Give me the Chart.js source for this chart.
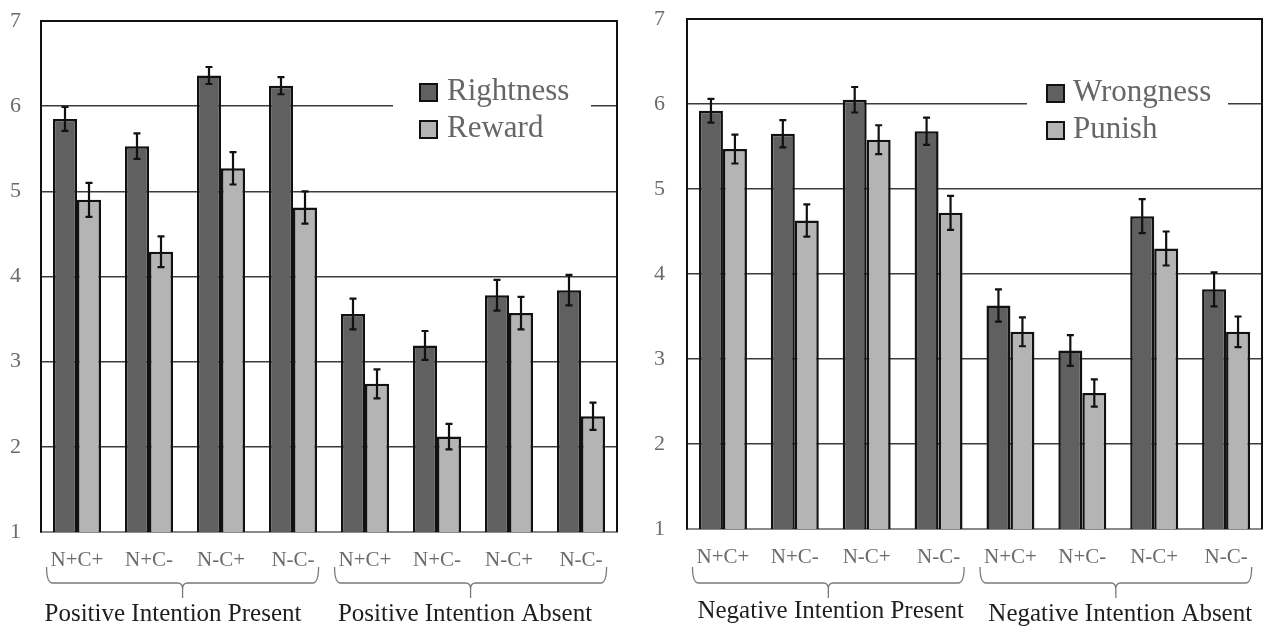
<!DOCTYPE html>
<html>
<head>
<meta charset="utf-8">
<script src="https://cdn.jsdelivr.net/npm/chart.js@4/dist/chart.umd.min.js"></script>
<style>
  html, body { margin: 0; padding: 0; background: #fff; }
  #wrap { position: relative; width: 1269px; height: 627px; overflow: hidden; }
  canvas { position: absolute; top: 0; }
  #leftChart { left: 0; }
  #rightChart { left: 630px; }
</style>
</head>
<body>
<div id="wrap">
  <canvas id="leftChart" width="630" height="627"></canvas>
  <canvas id="rightChart" width="639" height="627"></canvas>
</div>
<script>
// Conditions on the x axis (same for both panels)
const categories = ['N+C+', 'N+C-', 'N-C+', 'N-C-', 'N+C+', 'N+C-', 'N-C+', 'N-C-'];
const yTicks = [1, 2, 3, 4, 5, 6, 7];

// Group captions under the braces
const positiveGroups = ['Positive Intention Present', 'Positive Intention Absent'];
const negativeGroups = ['Negative Intention Present', 'Negative Intention Absent'];

// Positive panel: means and standard errors
const rightness    = [5.85, 5.53, 6.36, 6.24, 3.56, 3.19, 3.78, 3.84];
const rightnessErr = [0.14, 0.15, 0.10, 0.10, 0.18, 0.17, 0.18, 0.18];
const reward       = [4.90, 4.29, 5.27, 4.81, 2.74, 2.12, 3.57, 2.36];
const rewardErr    = [0.20, 0.18, 0.19, 0.19, 0.17, 0.15, 0.19, 0.16];

// Negative panel: means and standard errors
const wrongness    = [5.92, 5.65, 6.05, 5.68, 3.63, 3.10, 4.68, 3.82];
const wrongnessErr = [0.14, 0.16, 0.15, 0.16, 0.19, 0.18, 0.20, 0.20];
const punish       = [5.47, 4.63, 5.58, 4.72, 3.32, 2.60, 4.30, 3.32];
const punishErr    = [0.17, 0.19, 0.17, 0.20, 0.17, 0.16, 0.20, 0.18];

const SERIF = "'Liberation Serif', 'Times New Roman', serif";
const DARK = '#606060';
const LIGHT = '#b4b4b4';
const TICK_GREY = '#6b6b6b';

// Error bars drawn from each dataset's `errors` array
const errorBarPlugin = {
  id: 'errorBars',
  afterDatasetsDraw(chart) {
    const ctx = chart.ctx;
    const y = chart.scales.y;
    ctx.save();
    ctx.strokeStyle = '#111';
    ctx.lineWidth = 2.2;
    chart.data.datasets.forEach((ds, di) => {
      const meta = chart.getDatasetMeta(di);
      meta.data.forEach((bar, i) => {
        const v = ds.data[i], e = ds.errors[i];
        const yHi = y.getPixelForValue(v + e);
        const yLo = y.getPixelForValue(v - e);
        const x = bar.x;
        ctx.beginPath();
        ctx.moveTo(x, yHi); ctx.lineTo(x, yLo);
        ctx.moveTo(x - 3.5, yHi); ctx.lineTo(x + 3.5, yHi);
        ctx.moveTo(x - 3.5, yLo); ctx.lineTo(x + 3.5, yLo);
        ctx.stroke();
      });
    });
    ctx.restore();
  }
};

// Top and right edges of the plot frame
const framePlugin = {
  id: 'frame',
  afterDraw(chart) {
    const { left, right, top, bottom } = chart.chartArea;
    const ctx = chart.ctx;
    ctx.save();
    ctx.strokeStyle = '#111';
    ctx.lineWidth = 2;
    ctx.beginPath();
    ctx.moveTo(left, top);
    ctx.lineTo(right, top);
    ctx.lineTo(right, bottom);
    ctx.stroke();
    ctx.restore();
  }
};

// Legend box placed inside the plot
const boxLegendPlugin = {
  id: 'boxLegend',
  afterDraw(chart, args, opts) {
    const ctx = chart.ctx;
    ctx.save();
    ctx.fillStyle = '#fff';
    ctx.fillRect(opts.box[0], opts.box[1], opts.box[2], opts.box[3]);
    ctx.font = opts.size + 'px ' + SERIF;
    ctx.textBaseline = 'alphabetic';
    chart.data.datasets.forEach((ds, i) => {
      const base = opts.baselines[i];
      ctx.fillStyle = ds.backgroundColor;
      ctx.fillRect(opts.swatchX, base - 16, 17, 17);
      ctx.strokeStyle = '#111';
      ctx.lineWidth = 2;
      ctx.strokeRect(opts.swatchX, base - 16, 17, 17);
      ctx.fillStyle = '#666';
      ctx.fillText(ds.label, opts.textX, base);
    });
    ctx.restore();
  }
};

// Curly braces under each group of four conditions, with the group caption
const bracePlugin = {
  id: 'braces',
  afterDraw(chart, args, opts) {
    const ctx = chart.ctx;
    const x = chart.scales.x;
    ctx.save();
    ctx.font = '21px ' + SERIF;
    opts.groups.forEach((label, g) => {
      const first = g * 4, last = g * 4 + 3;
      const w0 = ctx.measureText(categories[first]).width;
      const w3 = ctx.measureText(categories[last]).width;
      const L = x.getPixelForValue(first) - w0 / 2 - 4;
      const R = x.getPixelForValue(last) + w3 / 2 + 4;
      const M = (L + R) / 2;
      const yTop = opts.yTop, yLine = opts.yLine, yTip = opts.yTip;
      ctx.strokeStyle = '#7a7a7a';
      ctx.lineWidth = 1.3;
      ctx.beginPath();
      ctx.moveTo(L, yTop);
      ctx.quadraticCurveTo(L, yLine, L + 6, yLine);
      ctx.lineTo(M - 5, yLine);
      ctx.quadraticCurveTo(M, yLine, M, yLine + 6);
      ctx.lineTo(M, yTip);
      ctx.moveTo(M, yLine + 6);
      ctx.quadraticCurveTo(M, yLine, M + 5, yLine);
      ctx.lineTo(R - 6, yLine);
      ctx.quadraticCurveTo(R, yLine, R, yTop);
      ctx.stroke();
    });
    ctx.font = opts.captionSize + 'px ' + SERIF;
    ctx.fillStyle = '#1e1e1e';
    ctx.textAlign = 'center';
    ctx.textBaseline = 'alphabetic';
    opts.groups.forEach((label, g) => {
      const ctr = (x.getPixelForValue(g * 4) + x.getPixelForValue(g * 4 + 3)) / 2;
      ctx.fillText(label, ctr + opts.captionShift[g], opts.captionBase[g]);
    });
    ctx.restore();
  }
};

function makePanel(canvasId, seriesA, errA, labelA, seriesB, errB, labelB, groups, geo) {
  return new Chart(document.getElementById(canvasId), {
    type: 'bar',
    data: {
      labels: categories,
      datasets: [
        { label: labelA, data: seriesA, errors: errA, backgroundColor: DARK, borderColor: '#111', borderWidth: 2.5, borderSkipped: false },
        { label: labelB, data: seriesB, errors: errB, backgroundColor: LIGHT, borderColor: '#111', borderWidth: 2.5, borderSkipped: false }
      ]
    },
    options: {
      responsive: false,
      animation: false,
      devicePixelRatio: 1,
      layout: { padding: { left: 0, right: geo.padRight, top: geo.padTop, bottom: 0 } },
      datasets: { bar: { categoryPercentage: 0.667, barPercentage: 1.0 } },
      scales: {
        x: {
          grid: { display: false, drawTicks: false },
          border: { display: true, color: '#8a8a8a', width: 2 },
          ticks: { color: TICK_GREY, font: { family: SERIF, size: 21 }, padding: geo.xPad, maxRotation: 0, autoSkip: false },
          afterFit(scale) { scale.height = geo.xHeight; }
        },
        y: {
          min: yTicks[0],
          max: yTicks[yTicks.length - 1],
          afterBuildTicks(scale) { scale.ticks = yTicks.map(v => ({ value: v })); },
          grid: {
            drawTicks: false,
            color: c => (c.tick && c.tick.value > yTicks[0] && c.tick.value < yTicks[yTicks.length - 1]) ? '#3c3c3c' : 'rgba(0,0,0,0)',
            lineWidth: 1.5
          },
          border: { display: true, color: '#111', width: 2 },
          ticks: { color: TICK_GREY, font: { family: SERIF, size: 22 }, padding: geo.yPad },
          afterFit(scale) {
            scale.width = geo.yWidth;
            // the end labels may overhang; keep the plot edges where the layout padding puts them
            scale.paddingTop = 0;
            scale.paddingBottom = 0;
          }
        }
      },
      plugins: {
        legend: { display: false },
        tooltip: { enabled: false },
        boxLegend: geo.legend,
        braces: { groups: groups, yTop: 567, yLine: 583, yTip: 598, captionSize: 25, captionBase: geo.captionBase, captionShift: geo.captionShift }
      }
    },
    plugins: [errorBarPlugin, framePlugin, boxLegendPlugin, bracePlugin]
  });
}

makePanel('leftChart', rightness, rightnessErr, 'Rightness', reward, rewardErr, 'Reward', positiveGroups, {
  padRight: 13, padTop: 21, xHeight: 95, yWidth: 41, xPad: 16, yPad: 20,
  captionBase: [621, 621], captionShift: [-12, -8],
  legend: { box: [393, 78, 198, 64], swatchX: 420, textX: 447, baselines: [100, 137], size: 31 }
});

makePanel('rightChart', wrongness, wrongnessErr, 'Wrongness', punish, punishErr, 'Punish', negativeGroups, {
  padRight: 7, padTop: 19, xHeight: 98, yWidth: 57, xPad: 16, yPad: 22,
  captionBase: [618, 621], captionShift: [0, 2],
  legend: { box: [397, 73, 201, 74], swatchX: 417, textX: 443, baselines: [101, 138], size: 31 }
});
</script>
</body>
</html>
